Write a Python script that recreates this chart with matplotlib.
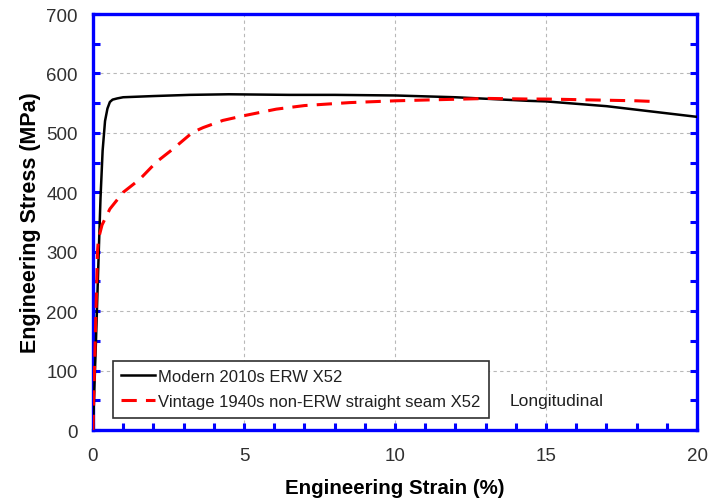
import matplotlib.pyplot as plt
from matplotlib.ticker import MultipleLocator

plt.rcParams['font.family'] = ['Liberation Sans', 'DejaVu Sans']

# Modern 2010s ERW X52 (strain %, stress MPa)
modern_strain = [0, 0.10, 0.18, 0.25, 0.32, 0.40, 0.48, 0.56, 0.65, 0.80, 1.0, 1.5,
                 2.0, 3.2, 4.5, 6.5, 8.0, 10.0, 12.0, 14.4, 15.0, 16.0, 17.0, 18.0,
                 19.0, 20.0]
modern_stress = [0, 150, 280, 390, 470, 520, 541, 552, 556, 558, 560, 561,
                 562, 564, 565, 564, 564, 563, 560, 554, 553, 549, 545, 539,
                 533, 527]

# Vintage 1940s non-ERW straight seam X52
vintage_strain = [0, 0.08, 0.15, 0.18, 0.30, 0.56, 1.0, 1.55, 2.1, 2.65, 3.3, 3.65,
                  4.3, 5.0, 6.07, 7.0, 8.5, 10.0, 11.5, 13.1, 14.4, 15.0, 16.0,
                  17.0, 18.0, 18.5]
vintage_stress = [0, 160, 300, 321, 345, 372, 400, 422, 451, 473, 501, 509,
                  521, 529, 540, 546, 551, 554, 556, 558, 557, 557, 556,
                  555, 554, 553]

fig = plt.figure(figsize=(7.15, 5.02), dpi=100)
ax = fig.add_axes([0.130, 0.1414, 0.845, 0.8286])

ax.plot(modern_strain, modern_stress, color='black', lw=1.8,
        label='Modern 2010s ERW X52', zorder=3)
ax.plot(vintage_strain, vintage_stress, color='red', lw=2.2, dashes=(5, 3),
        label='Vintage 1940s non-ERW straight seam X52', zorder=4)

ax.set_xlim(0, 20)
ax.set_ylim(0, 700)
ax.xaxis.set_major_locator(MultipleLocator(5))
ax.xaxis.set_minor_locator(MultipleLocator(1))
ax.yaxis.set_major_locator(MultipleLocator(100))
ax.yaxis.set_minor_locator(MultipleLocator(50))

ax.grid(True, which='major', color='#b8b8b8', ls=(0, (3, 3)), lw=0.8, zorder=1)

for sp in ax.spines.values():
    sp.set_color('blue')
    sp.set_linewidth(2.4)
ax.tick_params(which='both', direction='in', color='blue', width=2.2,
               length=5, right=True, top=False, labelsize=13.5,
               labelcolor='#303030')
ax.tick_params(axis='x', pad=12)
ax.tick_params(axis='y', pad=11)

ax.set_xlabel('Engineering Strain (%)', fontsize=14.8, fontweight='bold', labelpad=10)
ax.set_ylabel('Engineering Stress (MPa)', fontsize=15.5, fontweight='bold', labelpad=4)

leg = ax.legend(loc='lower left', bbox_to_anchor=(0.033, 0.03), fontsize=12.0,
                frameon=True, fancybox=False, handlelength=2.0,
                handletextpad=0.2, borderpad=0.5, labelspacing=0.62,
                borderaxespad=0)
leg.get_frame().set_edgecolor('#303030')
leg.get_frame().set_linewidth(1.2)
leg.get_frame().set_alpha(1)
for t in leg.get_texts():
    t.set_color('#202020')

ax.text(0.767, 0.07, 'Longitudinal', transform=ax.transAxes, fontsize=12.5,
        color='#202020', ha='center', va='center')

fig.savefig('out.png', dpi=100)
